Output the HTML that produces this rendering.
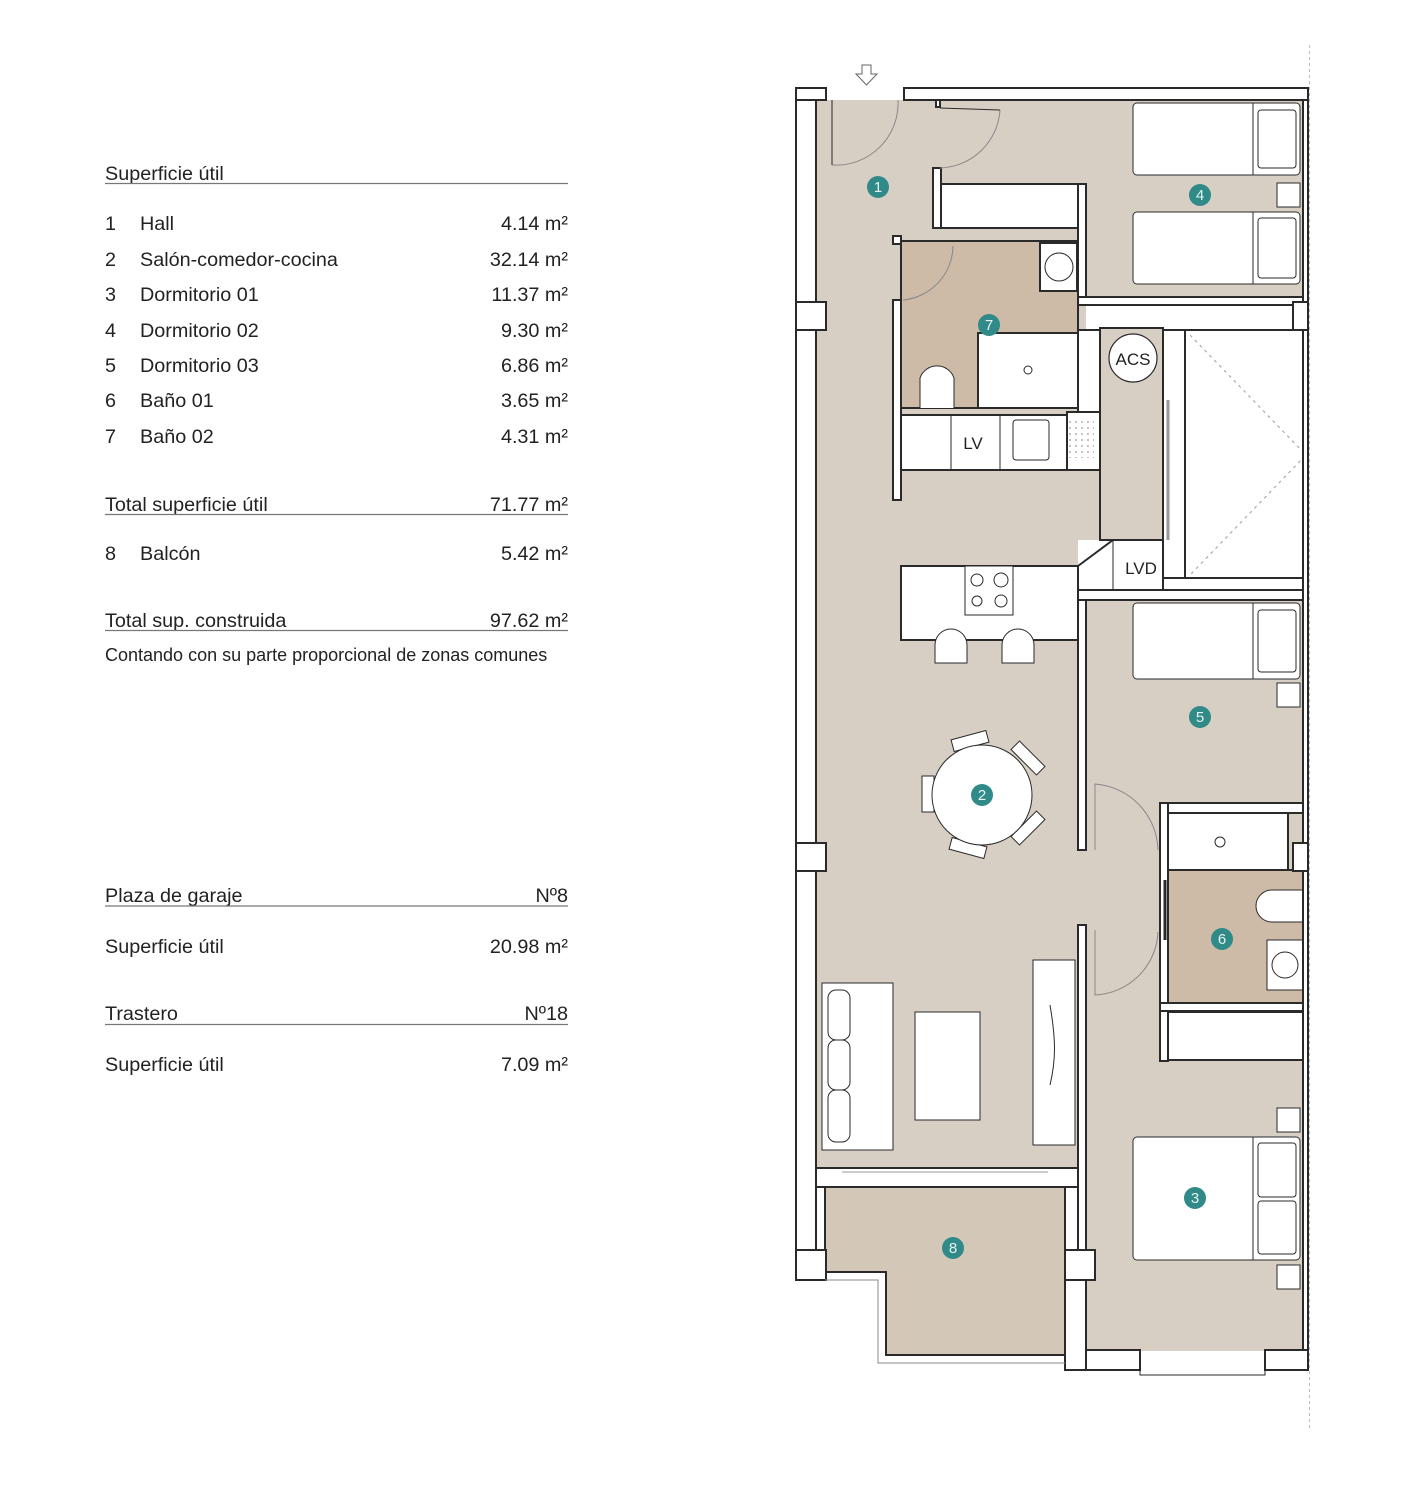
<!DOCTYPE html>
<html><head><meta charset="utf-8"><style>
html,body{margin:0;padding:0;background:#fff;}
svg{display:block;}
text{font-family:"Liberation Sans",Arial,sans-serif;fill:#222;}
</style></head><body>
<svg width="1414" height="1502" viewBox="0 0 1414 1502" xmlns="http://www.w3.org/2000/svg">
<rect width="1414" height="1502" fill="#fff"/>

<!-- LEFT TABLE -->
<g font-size="19.8">
<text x="105" y="180">Superficie útil</text>
<line x1="105" y1="183.5" x2="568" y2="183.5" stroke="#777" stroke-width="1.2"/>
<text x="105" y="230">1</text><text x="140" y="230">Hall</text><text x="568" y="230" text-anchor="end">4.14 m²</text>
<text x="105" y="266">2</text><text x="140" y="266">Salón-comedor-cocina</text><text x="568" y="266" text-anchor="end">32.14 m²</text>
<text x="105" y="301">3</text><text x="140" y="301">Dormitorio 01</text><text x="568" y="301" text-anchor="end">11.37 m²</text>
<text x="105" y="337">4</text><text x="140" y="337">Dormitorio 02</text><text x="568" y="337" text-anchor="end">9.30 m²</text>
<text x="105" y="372">5</text><text x="140" y="372">Dormitorio 03</text><text x="568" y="372" text-anchor="end">6.86 m²</text>
<text x="105" y="407">6</text><text x="140" y="407">Baño 01</text><text x="568" y="407" text-anchor="end">3.65 m²</text>
<text x="105" y="443">7</text><text x="140" y="443">Baño 02</text><text x="568" y="443" text-anchor="end">4.31 m²</text>
<text x="105" y="511">Total superficie útil</text><text x="568" y="511" text-anchor="end">71.77 m²</text>
<line x1="105" y1="514.5" x2="568" y2="514.5" stroke="#777" stroke-width="1.2"/>
<text x="105" y="560">8</text><text x="140" y="560">Balcón</text><text x="568" y="560" text-anchor="end">5.42 m²</text>
<text x="105" y="627">Total sup. construida</text><text x="568" y="627" text-anchor="end">97.62 m²</text>
<line x1="105" y1="630.5" x2="568" y2="630.5" stroke="#777" stroke-width="1.2"/>
<text x="105" y="661" font-size="18">Contando con su parte proporcional de zonas comunes</text>
<text x="105" y="902">Plaza de garaje</text><text x="568" y="902" text-anchor="end">Nº8</text>
<line x1="105" y1="906" x2="568" y2="906" stroke="#777" stroke-width="1.2"/>
<text x="105" y="953">Superficie útil</text><text x="568" y="953" text-anchor="end">20.98 m²</text>
<text x="105" y="1020">Trastero</text><text x="568" y="1020" text-anchor="end">Nº18</text>
<line x1="105" y1="1024.5" x2="568" y2="1024.5" stroke="#777" stroke-width="1.2"/>
<text x="105" y="1071">Superficie útil</text><text x="568" y="1071" text-anchor="end">7.09 m²</text>
</g>

<!-- PLAN -->
<g stroke="#2a2a2a" stroke-width="2">
<rect x="816" y="100" width="490" height="1068" fill="#d8cfc4" stroke="none"/>
<rect x="1086" y="1003" width="218" height="348" fill="#d8cfc4" stroke="none"/>
<polygon points="825,1187 1065,1187 1065,1355 886,1355 886,1272 825,1272" fill="#d3c7b8" stroke="#2a2a2a"/>
<rect x="1086" y="305" width="222" height="25" fill="#fff" stroke="none"/>
<rect x="1163" y="330" width="145" height="270" fill="#fff" stroke="none"/>
<rect x="1078" y="540" width="85" height="60" fill="#fff" stroke="none"/>
<rect x="796" y="88" width="20" height="1192" fill="#fff"/>
<rect x="796" y="88" width="30" height="12" fill="#fff"/>
<rect x="796" y="302" width="30" height="28" fill="#fff"/>
<rect x="796" y="843" width="30" height="28" fill="#fff"/>
<rect x="796" y="1250" width="30" height="30" fill="#fff"/>
<rect x="904" y="88" width="404" height="12" fill="#fff"/>
<rect x="1078" y="184" width="8" height="121" fill="#fff"/>
<rect x="1078" y="297" width="230" height="8" fill="#fff"/>
<rect x="933" y="168" width="8" height="60" fill="#fff"/>
<rect x="936" y="100" width="4" height="7" fill="#fff"/>
<rect x="941" y="184" width="137" height="44" fill="#fff"/>
<rect x="901" y="241" width="177" height="167" fill="#cdbba8"/>
<rect x="893" y="236" width="8" height="8" fill="#fff"/>
<rect x="893" y="300" width="8" height="200" fill="#fff"/>
<rect x="1040" y="243" width="37" height="48" fill="#fff"/>
<circle cx="1059" cy="267" r="14" fill="#fff" stroke-width="1"/>
<rect x="978" y="333" width="100" height="75" fill="#fff"/>
<circle cx="1028" cy="370" r="4" fill="#fff" stroke-width="1"/>
<path d="M920,408 L920,378 A18,18 0 0 1 954,378 L954,408" fill="#fff" stroke-width="1"/>
<path d="M903,300 A55,55 0 0 0 953,246" fill="none" stroke="#888" stroke-width="1"/>
<rect x="1078" y="330" width="22" height="82" fill="#fff"/>
<rect x="1100" y="328" width="63" height="212" fill="#d8cfc4"/>
<circle cx="1133" cy="358" r="24" fill="#fff" stroke-width="1.2"/>
<text x="1133" y="365" font-size="17" text-anchor="middle" stroke="none">ACS</text>
<rect x="1163" y="330" width="22" height="248" fill="#fff"/>
<line x1="1168" y1="400" x2="1168" y2="540" stroke="#999" stroke-width="3"/>
<rect x="1185" y="330" width="123" height="248" fill="#fff"/>
<polyline points="1190,335 1306,455 1190,575" fill="none" stroke="#aaa" stroke-width="1.2" stroke-dasharray="3,4"/>
<rect x="901" y="415" width="166" height="55" fill="#fff"/>
<rect x="1067" y="412" width="33" height="58" fill="#fff"/>
<line x1="951" y1="415" x2="951" y2="470" stroke-width="1"/>
<line x1="1000" y1="415" x2="1000" y2="470" stroke-width="1"/>
<text x="973" y="449" font-size="17" text-anchor="middle" stroke="none">LV</text>
<rect x="1013" y="420" width="36" height="40" rx="3" fill="#fff" stroke-width="1"/>
<rect x="1068" y="420" width="26" height="38" fill="url(#dots)" stroke="none"/>
<polygon points="1078,566 1113,540 1163,540 1163,590 1078,590" fill="#fff"/>
<line x1="1113" y1="540" x2="1113" y2="590" stroke-width="1"/>
<text x="1141" y="574" font-size="17" text-anchor="middle" stroke="none">LVD</text>
<rect x="901" y="566" width="177" height="74" fill="#fff"/>
<rect x="965" y="566" width="48" height="49" fill="#fff" stroke-width="1"/>
<g fill="none" stroke-width="1"><circle cx="977" cy="580" r="6"/><circle cx="1001" cy="580" r="7"/><circle cx="977" cy="601" r="5"/><circle cx="1001" cy="601" r="6"/></g>
<path d="M935,663 L935,645 A16,16 0 0 1 967,645 L967,663 Z" fill="#fff" stroke-width="1"/>
<path d="M1002,663 L1002,645 A16,16 0 0 1 1034,645 L1034,663 Z" fill="#fff" stroke-width="1"/>
<rect x="1078" y="590" width="230" height="10" fill="#fff"/>
<rect x="1078" y="600" width="8" height="250" fill="#fff"/>
<rect x="1160" y="803" width="148" height="10" fill="#fff"/>
<rect x="1160" y="803" width="8" height="200" fill="#fff"/>
<rect x="1168" y="813" width="120" height="57" fill="#fff"/>
<circle cx="1220" cy="842" r="5" fill="#fff" stroke-width="1"/>
<rect x="1168" y="870" width="136" height="133" fill="#cdbba8"/>
<path d="M1304,890 L1272,890 A16,16 0 0 0 1272,922 L1304,922 Z" fill="#fff" stroke-width="1"/>
<rect x="1267" y="940" width="37" height="50" fill="#fff" stroke-width="1"/>
<circle cx="1285" cy="965" r="13" fill="#fff" stroke-width="1"/>
<rect x="1160" y="1003" width="148" height="8" fill="#fff"/>
<line x1="1165" y1="880" x2="1165" y2="940" stroke-width="3"/>
<rect x="1160" y="1011" width="8" height="50" fill="#fff"/>
<rect x="1168" y="1012" width="136" height="48" fill="#fff"/>
<rect x="1078" y="925" width="8" height="325" fill="#fff"/>
<path d="M1095,850 L1095,784 A68,68 0 0 1 1158,850" fill="none" stroke="#888" stroke-width="1"/>
<path d="M1095,930 L1095,995 A66,66 0 0 0 1158,932" fill="none" stroke="#888" stroke-width="1"/>
<rect x="1303" y="100" width="5" height="1250" fill="#fff"/>
<rect x="1293" y="302" width="15" height="28" fill="#fff"/>
<rect x="1293" y="843" width="15" height="28" fill="#fff"/>
<rect x="816" y="1168" width="262" height="19" fill="#fff"/>
<line x1="842" y1="1172" x2="1048" y2="1172" stroke="#999" stroke-width="1"/>
<rect x="1065" y="1250" width="30" height="30" fill="#fff"/>
<rect x="1065" y="1280" width="21" height="90" fill="#fff"/>
<rect x="1086" y="1350" width="54" height="20" fill="#fff"/>
<rect x="1265" y="1350" width="43" height="20" fill="#fff"/>
<polyline points="1140,1370 1140,1375 1265,1375 1265,1370" fill="none" stroke-width="1"/>
<polyline points="825,1280 878,1280 878,1363 1065,1363" fill="none" stroke="#888" stroke-width="1"/>
<path d="M832,165 A62,62 0 0 0 898,100" fill="none" stroke="#888" stroke-width="1"/>
<path d="M940,168 A62,62 0 0 0 1000,110" fill="none" stroke="#888" stroke-width="1"/>
<line x1="832" y1="100" x2="832" y2="165" stroke-width="1"/>
<line x1="940" y1="108" x2="1000" y2="110" stroke-width="1"/>
<rect x="822" y="983" width="71" height="167" fill="#fff" stroke-width="1"/>
<g fill="none" stroke-width="1"><rect x="828" y="990" width="22" height="50" rx="8"/><rect x="828" y="1040" width="22" height="50" rx="8"/><rect x="828" y="1090" width="22" height="52" rx="8"/></g>
<rect x="915" y="1012" width="65" height="108" fill="#fff" stroke-width="1"/>
<rect x="1033" y="960" width="42" height="185" fill="#fff" stroke-width="1"/>
<path d="M1050,1005 C1056,1040 1056,1060 1050,1085" fill="none" stroke-width="1"/>
<g fill="#fff" stroke-width="1">
<rect x="922" y="776" width="12" height="36"/>
<rect x="952" y="735" width="36" height="12" transform="rotate(-15 970 741)"/>
<rect x="1010" y="752" width="36" height="12" transform="rotate(45 1028 758)"/>
<rect x="1010" y="822" width="36" height="12" transform="rotate(-45 1028 828)"/>
<rect x="950" y="842" width="36" height="12" transform="rotate(15 968 848)"/>
</g>
<circle cx="982" cy="795" r="50" fill="#fff" stroke-width="1"/>
<g fill="#fff" stroke-width="1">
<rect x="1133" y="103" width="167" height="72" rx="4"/><line x1="1253" y1="103" x2="1253" y2="175"/><rect x="1258" y="110" width="38" height="58" rx="3"/>
<rect x="1277" y="183" width="23" height="24"/>
<rect x="1133" y="212" width="167" height="72" rx="4"/><line x1="1253" y1="212" x2="1253" y2="284"/><rect x="1258" y="218" width="38" height="60" rx="3"/>
<rect x="1133" y="603" width="167" height="76" rx="4"/><line x1="1253" y1="603" x2="1253" y2="679"/><rect x="1258" y="610" width="38" height="62" rx="3"/>
<rect x="1277" y="683" width="23" height="24"/>
<rect x="1277" y="1108" width="23" height="24"/>
<rect x="1133" y="1137" width="167" height="123" rx="4"/><line x1="1253" y1="1137" x2="1253" y2="1260"/><rect x="1258" y="1143" width="38" height="54" rx="3"/><rect x="1258" y="1201" width="38" height="53" rx="3"/>
<rect x="1277" y="1265" width="23" height="24"/>
</g>
</g>
<defs><pattern id="dots" width="6" height="6" patternUnits="userSpaceOnUse"><circle cx="2" cy="2" r="0.9" fill="#999"/></pattern></defs>
<path d="M862,65 L871,65 L871,74 L877,74 L866.5,85 L856,74 L862,74 Z" fill="#fff" stroke="#666" stroke-width="1"/>
<line x1="1309.5" y1="45" x2="1309.5" y2="1430" stroke="#bbb" stroke-width="1" stroke-dasharray="3,3"/>
<g fill="#2f8a88">
<circle cx="878" cy="187" r="11"/><circle cx="1200" cy="195" r="11"/><circle cx="989" cy="325" r="11"/>
<circle cx="982" cy="795" r="11"/><circle cx="1200" cy="717" r="11"/><circle cx="1222" cy="939" r="11"/>
<circle cx="1195" cy="1198" r="11"/><circle cx="953" cy="1248" r="11"/>
</g>
<g font-size="15" text-anchor="middle">
<text x="878" y="192" style="fill:#e8f3f2">1</text>
<text x="1200" y="200" style="fill:#e8f3f2">4</text>
<text x="989" y="330" style="fill:#e8f3f2">7</text>
<text x="982" y="800" style="fill:#e8f3f2">2</text>
<text x="1200" y="722" style="fill:#e8f3f2">5</text>
<text x="1222" y="944" style="fill:#e8f3f2">6</text>
<text x="1195" y="1203" style="fill:#e8f3f2">3</text>
<text x="953" y="1253" style="fill:#e8f3f2">8</text>
</g>
</svg>
</body></html>
